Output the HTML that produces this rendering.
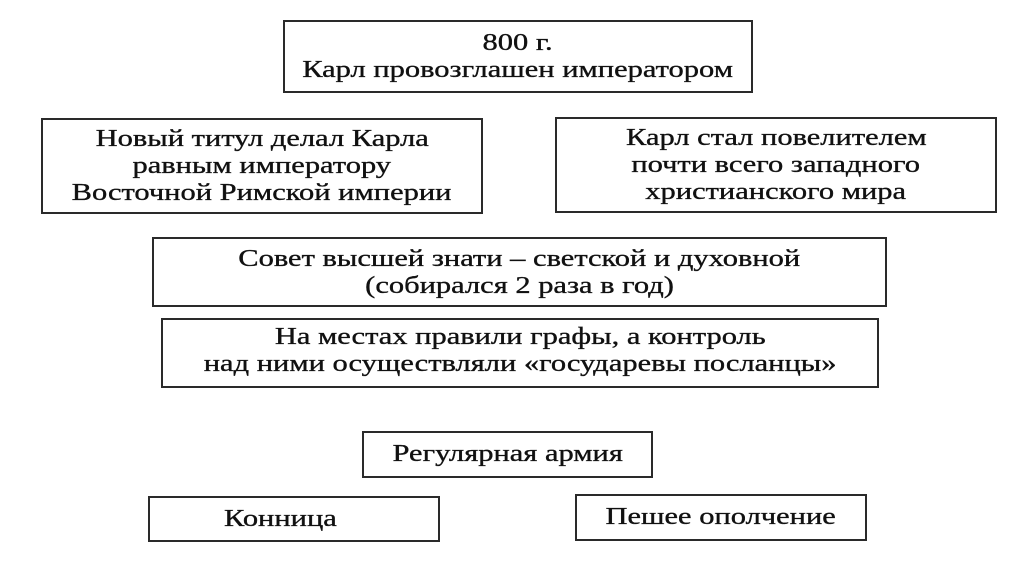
<!DOCTYPE html>
<html><head><meta charset="utf-8"><style>
body{margin:0;width:1024px;height:574px;background:#fff;position:relative;overflow:hidden;font-family:"Liberation Serif","DejaVu Serif",serif;color:#111}
.b{position:absolute;border:2px solid #2a2a2a;box-sizing:border-box;display:flex;flex-direction:column;justify-content:center;align-items:center;font-size:24px;line-height:27px}
.b span{display:block;transform:scaleX(1.27);white-space:nowrap;-webkit-text-stroke:0.35px #111}
</style></head><body>
<div class="b" style="left:283px;top:20px;width:470px;height:73px"><span>800 г.</span><span>Карл провозглашен императором</span></div>
<div class="b" style="left:41px;top:118px;width:442px;height:96px"><span>Новый титул делал Карла</span><span>равным императору</span><span>Восточной Римской империи</span></div>
<div class="b" style="left:555px;top:117px;width:442px;height:96px"><span>Карл стал повелителем</span><span>почти всего западного</span><span>христианского мира</span></div>
<div class="b" style="left:152px;top:237px;width:735px;height:70px;padding-top:2px"><span>Совет высшей знати – светской и духовной</span><span>(собирался 2 раза в год)</span></div>
<div class="b" style="left:161px;top:318px;width:718px;height:70px;padding-bottom:4px"><span>На местах правили графы, а контроль</span><span>над ними осуществляли «государевы посланцы»</span></div>
<div class="b" style="left:362px;top:431px;width:291px;height:47px"><span>Регулярная армия</span></div>
<div class="b" style="left:148px;top:496px;width:292px;height:46px;padding-right:28px"><span>Конница</span></div>
<div class="b" style="left:575px;top:494px;width:292px;height:47px"><span>Пешее ополчение</span></div>
</body></html>
